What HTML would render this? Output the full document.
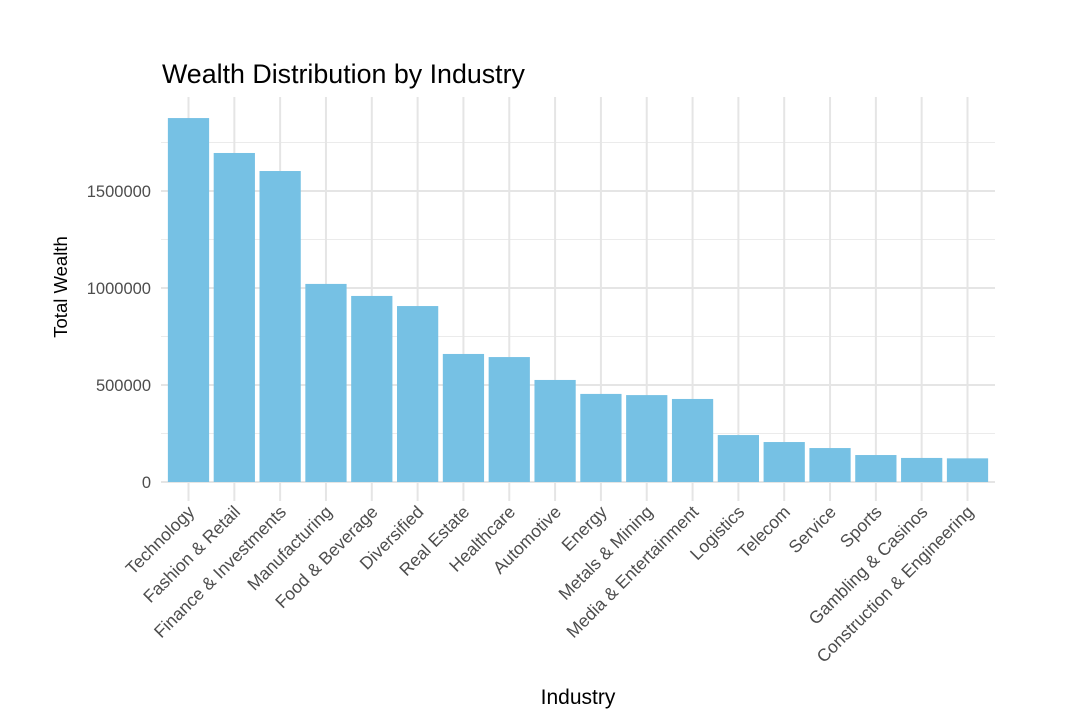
<!DOCTYPE html>
<html><head><meta charset="utf-8"><style>
body{margin:0;background:#fff;}
text{font-family:"Liberation Sans",sans-serif;}
</style></head><body>
<svg id="chart" width="1070" height="718" xmlns="http://www.w3.org/2000/svg">
<rect width="1070" height="718" fill="#fff"/>
<g id="grid"></g><g id="bars"></g><g id="xlabels"></g><g id="ylabels"></g>
<text x="162" y="83" font-size="26.8" fill="#000">Wealth Distribution by Industry</text>
<text transform="translate(67,287) rotate(-90)" text-anchor="middle" font-size="18.5" fill="#000">Total Wealth</text>
<text x="578" y="704" text-anchor="middle" font-size="21" fill="#000">Industry</text>
</svg>
<script>
const categories=["Technology","Fashion & Retail","Finance & Investments","Manufacturing","Food & Beverage","Diversified","Real Estate","Healthcare","Automotive","Energy","Metals & Mining","Media & Entertainment","Logistics","Telecom","Service","Sports","Gambling & Casinos","Construction & Engineering"];
const values=[1876000,1696000,1603000,1021000,959000,907000,660000,644000,526000,454000,448000,428000,242000,206000,175000,139000,124000,122000];
const yTicks=[0,500000,1000000,1500000];
const yTickLabels=["0","500000","1000000","1500000"];
const yMinor=[250000,750000,1250000,1750000];
(function(){
const NS="http://www.w3.org/2000/svg";
const pLeft=161,pRight=995,pTop=97,pBottom=501,y0=482,pxPer=97/500000;
const step=(pRight-pLeft)/(categories.length+0.2);
const xs=i=>pLeft+step*(0.6+i);
const ys=v=>y0-v*pxPer;
function mk(tag,attrs,parent){const e=document.createElementNS(NS,tag);for(const k in attrs)e.setAttribute(k,attrs[k]);document.getElementById(parent).appendChild(e);return e;}
yMinor.forEach(v=>{const l=mk('line',{x1:pLeft,x2:pRight,y1:ys(v),y2:ys(v),stroke:'#ebebeb','stroke-width':1},'grid');

});
yTicks.forEach((v,i)=>{const l=mk('line',{x1:pLeft,x2:pRight,y1:ys(v),y2:ys(v),stroke:'#e5e5e5','stroke-width':2},'grid');


const t=mk('text',{x:151,y:ys(v)+6,'text-anchor':'end','font-size':16.5,fill:'#4d4d4d'},'ylabels');t.textContent=yTickLabels[i];

});
categories.forEach((c,i)=>{const cx=xs(i);
const g=mk('line',{x1:cx,x2:cx,y1:pTop,y2:pBottom,stroke:'#e5e5e5','stroke-width':2},'grid');


const w=step*0.9;
const b=mk('rect',{x:cx-w/2,y:ys(values[i]),width:w,height:y0-ys(values[i]),fill:'#76c1e4'},'bars');


const t=mk('text',{transform:`translate(${cx+7},513) rotate(-45)`,'text-anchor':'end','font-size':17.5,fill:'#4d4d4d'},'xlabels');t.textContent=c;

});
})();
</script>
</body></html>
